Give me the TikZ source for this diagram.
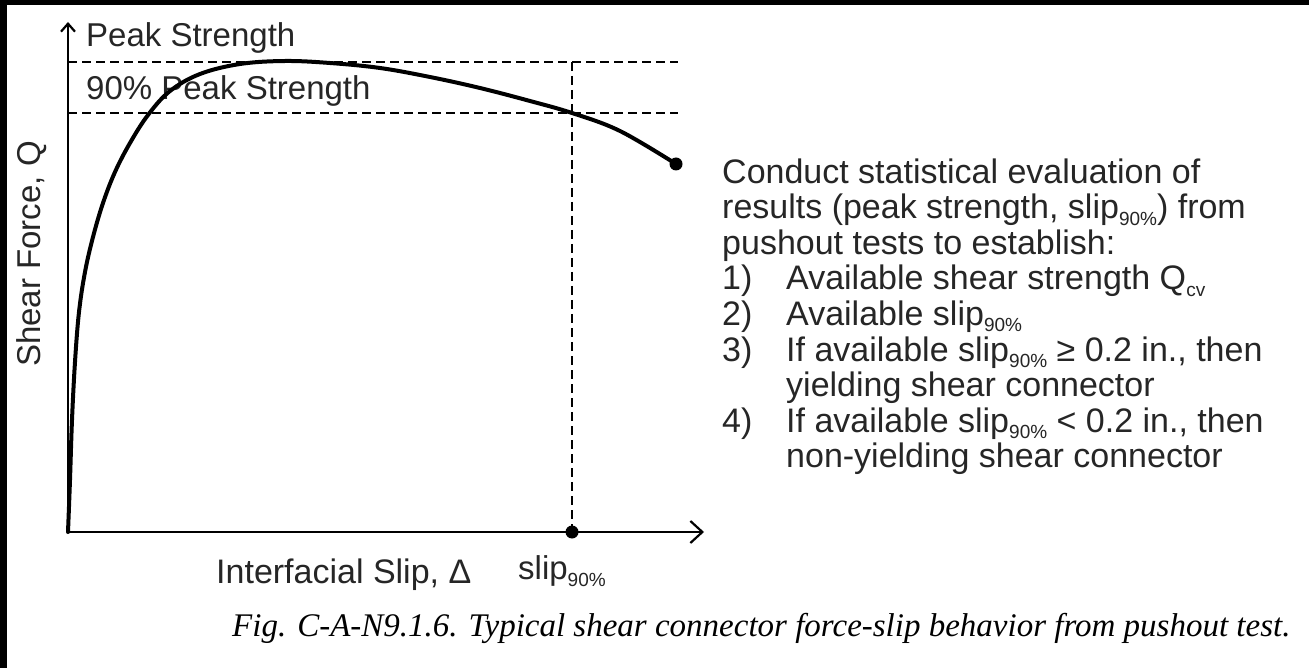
\documentclass[tikz,border=0pt]{standalone}
\usepackage{fontspec}
\setmainfont{Liberation Sans}
\newfontfamily\capfont{Liberation Serif}
\usetikzlibrary{arrows.meta}
\newcommand\lowtxt[1]{\raisebox{-0.2em}{\fontsize{19}{20}\selectfont #1}}
\begin{document}
\begin{tikzpicture}[x=1pt,y=-1pt,
  lbl/.style={inner sep=0pt, text=black!85, font=\fontsize{33}{40}\selectfont},
  rtxt/.style={inner sep=0pt, anchor=base west, text=black!85, font=\fontsize{34}{40}\selectfont},
  dashln/.style={line width=2pt, dash pattern=on 9pt off 5pt},
  axisln/.style={line width=2.2pt},
  curveln/.style={line width=4pt, line cap=round, line join=round},
  dotnode/.style={circle, fill=black, inner sep=0pt, minimum size=13pt},
]
\useasboundingbox (0,0) rectangle (1309,668);
\fill[white] (0,0) rectangle (1309,668);
\fill[black] (0,0) rectangle (1309,5);
\fill[black] (0,0) rectangle (7,668);
% axes
\coordinate (O) at (68,532);
\coordinate (Ytop) at (68,22);
\coordinate (Xend) at (704,532);
\draw[axisln, -{Straight Barb[length=8pt,width=14pt]}] (O) -- (Ytop);
\draw[axisln, -{Straight Barb[length=12pt,width=22pt]}] (O) -- (Xend);
% dashed guides
\coordinate (Pk0) at (68,62);
\coordinate (Pk1) at (678,62);
\coordinate (Nn0) at (68,113);
\coordinate (Nn1) at (678,113);
\draw[dashln] (Pk0) -- (Pk1);
\draw[dashln] (Nn0) -- (Nn1);
\node[dotnode] (S) at (572,532) {};
\coordinate (Vtop) at (572,62);
\draw[dashln] (Vtop) -- (S.center);
\node[dotnode] (E) at (676,164) {};
% labels
\node[lbl, anchor=west] (pk) at (86,38) {Peak Strength};
\node[lbl, anchor=west] (nine) at (86,91) {90\% Peak Strength};
\node[lbl, rotate=90] (yl) at (32,254) {Shear Force, Q};
\node[lbl, anchor=west, font=\fontsize{34}{40}\selectfont] (xl) at (216,575) {Interfacial Slip, Δ};
\node[lbl, anchor=west] (sl) at (518,571) {slip\lowtxt{90\%}};
% curve
\draw[curveln] plot[smooth, tension=0.6] coordinates {(O) (70,480) (72,420) (75,362) (79,312) (85,272) (93,237) (103,203) (115,172) (130,143) (148,115) (170,91) (200,74) (240,64) (285,61) (330,63) (380,68) (430,77) (480,88) (530,101) (572,113) (620,131) (E.center)};
% right text
\node[rtxt] (t1) at (722,184) {Conduct statistical evaluation of};
\node[rtxt] (t2) at (722,219) {results (peak strength, slip\lowtxt{90\%}) from};
\node[rtxt] (t3) at (722,255) {pushout tests to establish:};
\node[rtxt] (n1) at (722,290) {1)};
\node[rtxt] (t4) at (786,290) {Available shear strength Q\lowtxt{cv}};
\node[rtxt] (n2) at (722,325) {2)};
\node[rtxt] (t5) at (786,325) {Available slip\lowtxt{90\%}};
\node[rtxt] (n3) at (722,361) {3)};
\node[rtxt] (t6) at (786,361) {If available slip\lowtxt{90\%} ≥ 0.2 in., then};
\node[rtxt] (t7) at (786,396) {yielding shear connector};
\node[rtxt] (n4) at (722,432) {4)};
\node[rtxt] (t8) at (786,432) {If available slip\lowtxt{90\%} < 0.2 in., then};
\node[rtxt] (t9) at (786,467) {non-yielding shear connector};
% caption
\node[inner sep=0pt, anchor=west, font=\capfont\itshape\fontsize{33}{38}\selectfont] (cap) at (232,628) {Fig. C-A-N9.1.6. Typical shear connector force-slip behavior from pushout test.};
\end{tikzpicture}
\end{document}
